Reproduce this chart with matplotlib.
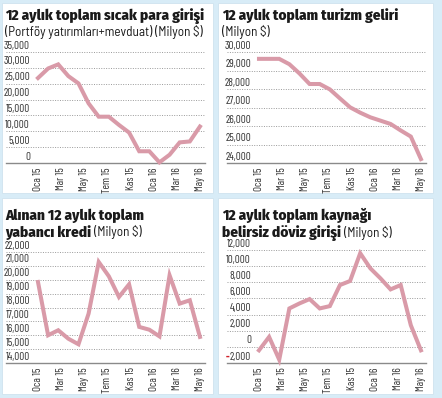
import numpy as np
import matplotlib
matplotlib.use("Agg")
import matplotlib.pyplot as plt
import matplotlib.transforms as mtransforms
from matplotlib.patches import Rectangle
from matplotlib.text import Annotation

TITLE_FONT = ['Fira Sans Condensed', 'DejaVu Sans']
SUB_FONT = ['Barlow Semi Condensed', 'DejaVu Sans']
TICK_FONT = ['Barlow Condensed', 'DejaVu Sans']
plt.rcParams['font.family'] = TICK_FONT

W, H = 442, 398

# aylar: Oca 15 .. May 16 (17 nokta)
x_labels = ["Oca 15", "Mar 15", "May 15", "Tem 15", "Kas 15", "Oca 16", "Mar 16", "May 16"]

sicak_para = [26800, 29800, 31100, 27400, 25100, 18800, 14600, 14600, 12000,
              9600, 3700, 3700, 200, 2600, 6500, 6800, 11500]
turizm = [29630, 29630, 29630, 29340, 28840, 28270, 28270, 27980, 27490,
          27010, 26720, 26470, 26290, 26110, 25760, 25430, 24210]
yabanci_kredi = [19840, 16000, 16360, 15750, 15350, 17560, 21280, 20250, 18760,
                 19670, 16600, 16400, 15920, 20320, 18280, 18520, 15880]
doviz_girisi = [-430, 1230, -1590, 4760, 5380, 5920, 4760, 5050, 7660,
                8160, 11600, 9730, 8490, 7120, 7660, 2680, -430]

yticks_1 = [0, 5000, 10000, 15000, 20000, 25000, 30000, 35000]
yticks_2 = [24000, 25000, 26000, 27000, 28000, 29000, 30000]
yticks_3 = [14000, 15000, 16000, 17000, 18000, 19000, 20000, 21000, 22000]
yticks_4 = [-2000, 0, 2000, 4000, 6000, 8000, 10000, 12000]

BG = '#d8ecf7'
LINE = '#d99aa8'
TXT = '#1a1a1a'
TICK = '#333333'

fig = plt.figure(figsize=(W / 100, H / 100), dpi=100)
fig.patch.set_facecolor(BG)


def fx(x):
    return x / W


def fy(y):
    return 1 - y / H


# beyaz paneller
for (x0, y0, x1, y1) in [(2, 3, 213, 193), (218, 3, 433, 193),
                         (2, 198, 213, 394), (218, 198, 433, 394)]:
    fig.patches.append(Rectangle((fx(x0), fy(y1)), fx(x1 - x0), (y1 - y0) / H,
                                 transform=fig.transFigure, facecolor='white',
                                 edgecolor='#cfe3ee', linewidth=0.6, zorder=-10))


def panel(left, top, bottom, values, yticks):
    right = left + 199
    ax = fig.add_axes([fx(left), fy(bottom), fx(right - left), (bottom - top) / H])
    ax.set_facecolor('none')
    xs = np.arange(len(values))
    ax.plot(xs, values, color=LINE, lw=2.9, solid_joinstyle='miter', zorder=3,
            clip_on=False)
    ax.set_xlim(-3.16, 16.5)
    ax.set_ylim(yticks[0], yticks[-1])
    for s in ['left', 'right', 'top']:
        ax.spines[s].set_visible(False)
    ax.spines['bottom'].set_color('#8a8a8a')
    ax.spines['bottom'].set_linewidth(1.0)
    for v in yticks[1:]:
        ax.axhline(v, color='#9a9a9a', lw=0.7, ls=(0, (1, 1.5)), zorder=1)
    ax.set_yticks([])
    ax.set_xticks(np.linspace(0, 16, 8))
    ax.set_xticklabels(x_labels, rotation=90, fontsize=7.9, color=TICK)
    ax.tick_params(axis='x', length=0, pad=3)
    trans = mtransforms.offset_copy(ax.get_yaxis_transform(), fig=fig, x=0, y=1.0, units='points')
    for v in yticks:
        t = ax.text(24 / 199, v, f"{abs(v):,}", transform=trans, ha='right',
                    va='bottom', fontsize=7.9, color=TICK)
        if v < 0:
            ax.annotate("-", xy=(0, 0), xycoords=t, ha='right', va='bottom',
                        fontsize=7.9, color='#d0202a', fontweight='bold')
    return ax


panel(6, 52, 163, sicak_para, yticks_1)
panel(227, 52, 163, turizm, yticks_2)
panel(6, 252, 363, yabanci_kredi, yticks_3)
panel(227, 250, 363, doviz_girisi, yticks_4)

TS = 10.9
SS = 9.5


def title_line(x, y, bold, regular=None):
    t = fig.text(fx(x), fy(y), bold, fontsize=TS, fontweight='heavy', color=TXT,
                 ha='left', va='baseline', family=TITLE_FONT)
    if regular:
        a = Annotation(regular, xy=(1, 0), xycoords=t, xytext=(2, 0.6),
                       textcoords='offset points', fontsize=SS, color=TXT,
                       ha='left', va='bottom', family=SUB_FONT)
        fig.add_artist(a)
    return t


title_line(5, 20, "12 aylık toplam sıcak para girişi")
fig.text(fx(5), fy(36), "(Portföy yatırımları+mevduat) (Milyon $)", fontsize=SS,
         color=TXT, ha='left', va='baseline', family=SUB_FONT)
title_line(222, 20, "12 aylık toplam turizm geliri")
fig.text(fx(222), fy(36), "(Milyon $)", fontsize=SS, color=TXT, ha='left',
         va='baseline', family=SUB_FONT)

title_line(5, 220, "Alınan 12 aylık toplam")
title_line(5, 237, "yabancı kredi", "(Milyon $)")
title_line(222, 220, "12 aylık toplam kaynağı")
title_line(222, 237, "belirsiz döviz girişi", "(Milyon $)")

fig.savefig("out.png", dpi=100, facecolor=fig.get_facecolor())
